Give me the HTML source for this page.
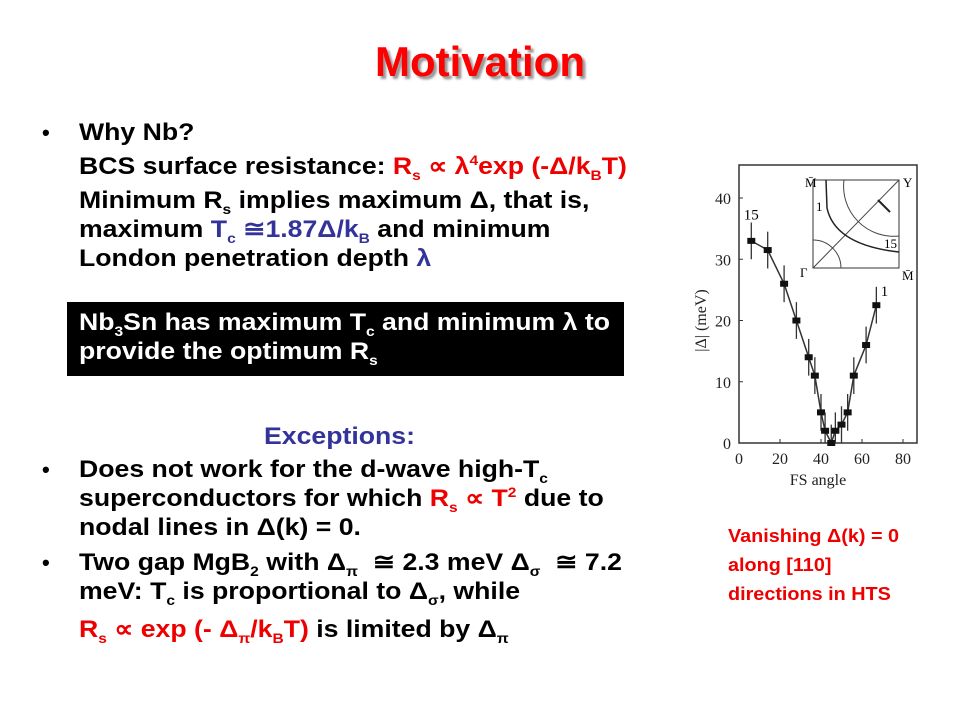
<!DOCTYPE html>
<html><head><meta charset="utf-8"><style>
body{margin:0;background:#fff}
#s{position:relative;width:960px;height:720px;overflow:hidden;font-family:"Liberation Sans",sans-serif;font-weight:bold}
.l{position:absolute;font-size:24px;white-space:nowrap;color:#000;line-height:26px;transform:scaleX(1.11);transform-origin:0 0}
.r{color:#e00}.b{color:#333399}
sub,sup{font-size:14px;line-height:0}
.bul{position:absolute;font-size:22px;left:42px}
</style></head><body>
<div id="s">
<div style="position:absolute;left:0;width:960px;top:38px;text-align:center;font-size:42px;color:#f00;text-shadow:3px 3px 2px #999">Motivation</div>
<div class="bul" style="top:120px">•</div>
<div class="l" style="left:79px;top:120px">Why Nb?</div>
<div class="l" style="left:79px;top:154px">BCS surface resistance: <span class="r">R<sub>s</sub> ∝ λ<sup>4</sup>exp (-Δ/k<sub>B</sub>T)</span></div>
<div class="l" style="left:79px;top:188px">Minimum R<sub>s</sub> implies maximum Δ, that is,</div>
<div class="l" style="left:79px;top:217px">maximum <span class="b">T<sub>c</sub> ≅1.87Δ/k<sub>B</sub></span> and minimum</div>
<div class="l" style="left:79px;top:246px">London penetration depth <span class="b">λ</span></div>
<div style="position:absolute;left:67px;top:302px;width:557px;height:74px;background:#000"></div>
<div class="l" style="left:79px;top:310px;color:#fff">Nb<sub>3</sub>Sn has maximum T<sub>c</sub> and minimum λ to</div>
<div class="l" style="left:79px;top:339px;color:#fff">provide the optimum R<sub>s</sub></div>
<div class="l b" style="left:264px;top:424px">Exceptions:</div>
<div class="bul" style="top:457px">•</div>
<div class="l" style="left:79px;top:457px">Does not work for the d-wave high-T<sub>c</sub></div>
<div class="l" style="left:79px;top:486px">superconductors for which <span class="r">R<sub>s</sub> ∝ T<sup>2</sup></span> due to</div>
<div class="l" style="left:79px;top:515px">nodal lines in Δ(k) = 0.</div>
<div class="bul" style="top:550px">•</div>
<div class="l" style="left:79px;top:550px">Two gap MgB<sub>2</sub> with Δ<sub>π</sub> &nbsp;≅ 2.3 meV Δ<sub>σ</sub> &nbsp;≅ 7.2</div>
<div class="l" style="left:79px;top:579px">meV: T<sub>c</sub> is proportional to Δ<sub>σ</sub>, while</div>
<div class="l" style="left:79px;top:617px"><span class="r">R<sub>s</sub> ∝ exp (- Δ<sub>π</sub>/k<sub>B</sub>T)</span> is limited by Δ<sub>π</sub></div>
<div style="position:absolute;left:728px;top:522px;font-size:18px;line-height:29px;color:#e00;transform:scaleX(1.1);transform-origin:0 0;white-space:nowrap">Vanishing Δ(k) = 0<br>along [110]<br>directions in HTS</div>
<svg id="chart" style="position:absolute;left:0;top:0" width="960" height="720" font-family="Liberation Serif, serif" font-weight="normal"></svg>
</div>
<script>
const angles=[6,14,22,28,34,37,40,42,45,47,50,53,56,62,67];
const gaps=[33,31.5,26,20,14,11,5,2,0,2,3,5,11,16,22.5];
const errs=[3,3,3,3,3,3,3,3,3,3,3,3,3,3,3];
const xTicks=[0,20,40,60,80];
const yTicks=[0,10,20,30,40];
const svg=document.getElementById('chart');
const NS='http://www.w3.org/2000/svg';
const X0=739,X1=917,Y0=443,Y1=165;
const sx=v=>X0+v*(903-739)/80;
const sy=v=>Y0-v*(443-198)/40;
function mk(t,a){const e=document.createElementNS(NS,t);for(const k in a)e.setAttribute(k,a[k]);svg.appendChild(e);return e;}
const fr=mk('rect',{x:X0,y:Y1,width:X1-X0,height:Y0-Y1,fill:'none',stroke:'#333','stroke-width':1.5});


xTicks.forEach(v=>{
 const t=mk('text',{x:sx(v),y:Y0+21,'text-anchor':'middle','font-size':16,fill:'#222'});t.textContent=v;
 
 
 mk('line',{x1:sx(v),x2:sx(v),y1:Y0,y2:Y0-4,stroke:'#333'});
});
yTicks.forEach(v=>{
 const t=mk('text',{x:X0-8,y:sy(v)+6,'text-anchor':'end','font-size':16,fill:'#222'});t.textContent=v;
 
 
 mk('line',{x1:X0,x2:X0+4,y1:sy(v),y2:sy(v),stroke:'#333'});
});
const xt=mk('text',{x:(X0+X1)/2-10,y:Y0+42,'text-anchor':'middle','font-size':16,fill:'#222'});xt.textContent='FS angle';


const yt=mk('text',{x:0,y:0,'text-anchor':'middle','font-size':16,fill:'#222',transform:`translate(${X0-33},${sy(20)}) rotate(-90)`});yt.textContent='|Δ| (meV)';


const ln=mk('polyline',{points:angles.map((a,i)=>sx(a)+','+sy(gaps[i])).join(' '),fill:'none',stroke:'#333','stroke-width':1.5});


angles.forEach((a,i)=>{
 const e=mk('line',{x1:sx(a),x2:sx(a),y1:sy(gaps[i]+errs[i]),y2:sy(Math.max(0,gaps[i]-errs[i])),stroke:'#333','stroke-width':1.3});
 
 
 const p=mk('rect',{x:sx(a)-4,y:sy(gaps[i])-3,width:8,height:6,fill:'#111'});
 
 
});
[[sx(6),sy(36.5),'15'],[sx(71),sy(24),'1']].forEach(d=>{const t=mk('text',{x:d[0],y:d[1],'text-anchor':'middle','font-size':15});t.textContent=d[2];
 
 });
const ins=mk('rect',{x:813,y:180,width:86,height:88,fill:'#fff',stroke:'#333'});


mk('line',{x1:813,y1:268,x2:899,y2:180,stroke:'#444'});
mk('path',{d:'M 844 180 A 50 50 0 0 0 899 236',fill:'none',stroke:'#444'});
mk('path',{d:'M 813 240 A 28 28 0 0 1 841 268',fill:'none',stroke:'#444'});
mk('path',{d:'M 826 180 L 827 208 Q 835 245 899 252',fill:'none',stroke:'#222','stroke-width':1.5});
mk('path',{d:'M 878 200 L 890 212',stroke:'#222','stroke-width':2});
[['M̄',805,187],['Y',903,187],['Γ',800,277],['M̄',902,280],['1',816,211],['15',884,248]].forEach(d=>{const t=mk('text',{x:d[1],y:d[2],'font-size':13});t.textContent=d[0];
 
 });
</script>
</body></html>
